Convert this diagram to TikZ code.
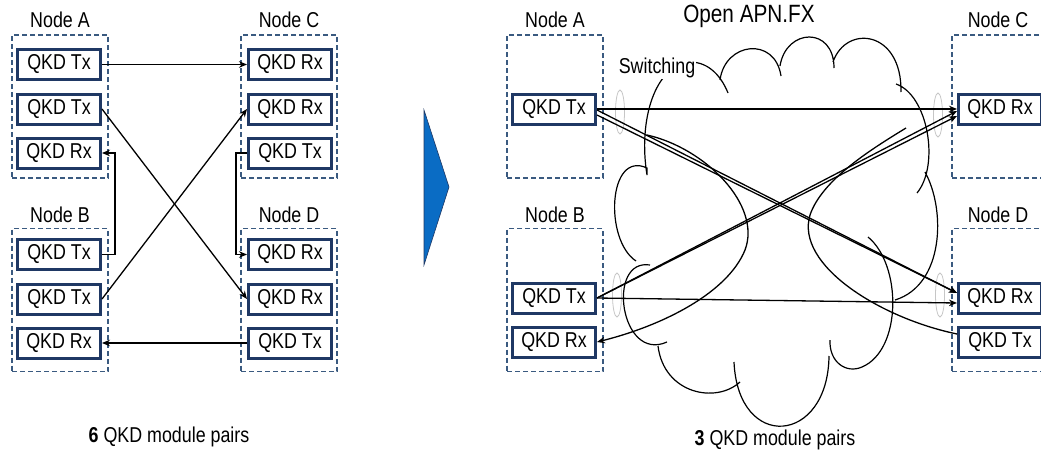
\documentclass[tikz,border=0pt]{standalone}
\usepackage{fontspec}
\setmainfont{Liberation Sans}[FakeStretch=0.83]
\usetikzlibrary{arrows.meta}
\definecolor{boxnavy}{HTML}{1F3864}
\definecolor{grpblue}{HTML}{3A5A80}
\definecolor{arrowblue}{HTML}{0A6CC4}
\begin{document}
\begin{tikzpicture}[x=1pt, y=-1pt, >={Stealth[length=8pt,width=6.5pt]},
  font=\fontsize{21.5}{24}\selectfont,
  qkd/.style={draw=boxnavy, line width=3pt, fill=white, minimum width=83pt, minimum height=30pt, inner sep=0pt},
  grp/.style={draw=grpblue, line width=1.2pt, dash pattern=on 5pt off 3pt, minimum width=96pt, minimum height=143pt, inner sep=0pt},
  link/.style={line width=1.3pt},
  cloudln/.style={line width=1.2pt},
  ring/.style={draw=gray!45, line width=0.8pt}]
  \useasboundingbox (0,0) rectangle (1041,455);

  % left: one link per pair
  \node[grp] (LAg) at (60,106.5) {};
  \node[grp] (LCg) at (289,106.5) {};
  \node[grp] (LBg) at (60,300) {};
  \node[grp] (LDg) at (289,300) {};
  \node (LAt) at (60,20) {Node A};
  \node (LCt) at (289,20) {Node C};
  \node (LBt) at (60,215) {Node B};
  \node (LDt) at (289,215) {Node D};
  \node[qkd] (LA1) at (59,64.5) {QKD Tx};
  \node[qkd] (LA2) at (59,109) {QKD Tx};
  \node[qkd] (LA3) at (59,153) {QKD Rx};
  \node[qkd] (LC1) at (290,64.5) {QKD Rx};
  \node[qkd] (LC2) at (290,109) {QKD Rx};
  \node[qkd] (LC3) at (290,153) {QKD Tx};
  \node[qkd] (LB1) at (59,254.5) {QKD Tx};
  \node[qkd] (LB2) at (59,299) {QKD Tx};
  \node[qkd] (LB3) at (59,343) {QKD Rx};
  \node[qkd] (LD1) at (290,254.5) {QKD Rx};
  \node[qkd] (LD2) at (290,299) {QKD Rx};
  \node[qkd] (LD3) at (290,343) {QKD Tx};
  \draw[link, ->] (LA1.east) -- (LC1.west);
  \draw[link, ->] (LA2.east) -- (LD2.west);
  \draw[link, ->] (LB2.east) -- (LC2.west);
  \draw[link, ->] (LB1.east) -- ++(13,0) |- (LA3.east);
  \draw[link, ->] (LC3.west) -- ++(-11,0) |- (LD1.west);
  \draw[link, ->] (LD3.west) -- (LB3.east);
  \node (sumL) at (169,437) {\textbf{6} QKD module pairs};

  \fill[arrowblue, draw=boxnavy, line width=0.6pt] (424,110) -- (449,187) -- (424,265) -- cycle;

  % right: switched network
  \draw[cloudln]
    (647,175) .. controls (638,120) and (655,65) .. (690,62) .. controls (710,62) and (722,78) .. (728,93)
    (720,80) .. controls (725,42) and (775,36) .. (781,76)
    (780,66) .. controls (786,28) and (834,26) .. (834,68)
    (833,62) .. controls (846,24) and (902,30) .. (901,92)
    (896,84) .. controls (928,95) and (940,165) .. (917,193)
    (925,172) .. controls (946,210) and (944,285) .. (895,300)
    (868,237) .. controls (902,265) and (902,350) .. (862,367) .. controls (846,374) and (829,362) .. (830,340)
    (829,356) .. controls (828,445) and (738,452) .. (734,362)
    (740,382) .. controls (716,404) and (664,394) .. (658,346)
    (667,342) .. controls (620,363) and (606,258) .. (650,265)
    (636,261) .. controls (604,240) and (608,150) .. (647,168) -- (647,175);
  \node (apn) at (749,16) {\fontsize{25}{28}\selectfont Open APN.FX};
  \node[fill=white, inner sep=1pt] (sw) at (657,68) {Switching};

  \node[grp] (RAg) at (555,106.5) {};
  \node[grp] (RBg) at (555,300) {};
  \node[grp] (RCg) at (1000,106.5) {};
  \node[grp] (RDg) at (1000,300) {};
  \node (RAt) at (555,20) {Node A};
  \node (RBt) at (555,215) {Node B};
  \node (RCt) at (998,20) {Node C};
  \node (RDt) at (998,215) {Node D};
  \node[qkd] (RA) at (554,109) {QKD Tx};
  \node[qkd] (RB1) at (554,298) {QKD Tx};
  \node[qkd] (RB2) at (554,342) {QKD Rx};
  \node[qkd] (RC) at (1000,109) {QKD Rx};
  \node[qkd] (RD1) at (1000,298) {QKD Rx};
  \node[qkd] (RD2) at (1000,342) {QKD Tx};

  \draw[ring] (620,112) ellipse [x radius=4.5pt, y radius=22pt];
  \draw[ring] (938,115) ellipse [x radius=4.5pt, y radius=22pt];
  \draw[ring] (617,295) ellipse [x radius=4.5pt, y radius=22pt];
  \draw[ring] (940,295) ellipse [x radius=4.5pt, y radius=22pt];

  \coordinate (lobeL) at (647,135);
  \coordinate (lobeR) at (906,128);
  \draw[link, ->] (RA.east) -- (RC.west);
  \draw[link, ->] ([yshift=-1pt]RA.east) -- ([yshift=5pt]RD1.west);
  \draw[link, ->] ([yshift=-6pt]RA.east) -- ([yshift=5pt]RD1.west);
  \draw[link, ->] (RB1.east) -- ([yshift=-2pt]RC.west);
  \draw[link, ->] (RB1.east) -- ([yshift=-7pt]RC.west);
  \draw[link, ->] (RB1.east) -- ([yshift=-5pt]RD1.west);
  \draw[link, ->] (lobeL) .. controls (705,148) and (762,205) .. (745,250)
    .. controls (728,292) and (665,325) .. (RB2.east);
  \draw[link] ([yshift=8pt]RD2.west) .. controls (880,318) and (795,265) .. (810,215)
    .. controls (822,180) and (870,150) .. (lobeR);
  \node (sumR) at (775,440) {\textbf{3} QKD module pairs};
\end{tikzpicture}
\end{document}
